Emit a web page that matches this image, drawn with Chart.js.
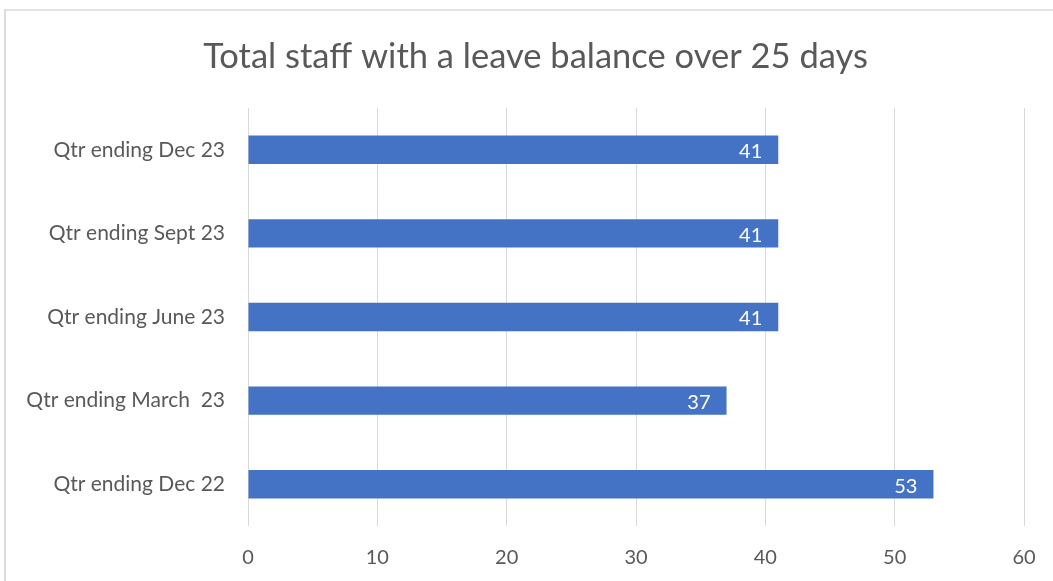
<!DOCTYPE html>
<html>
<head>
<meta charset="utf-8">
<script src="https://cdn.jsdelivr.net/npm/chart.js@4/dist/chart.umd.min.js"></script>
<style>
  html, body { margin: 0; padding: 0; background: #ffffff; }
  #frame {
    position: absolute; left: 0; top: 0; width: 1053px; height: 581px;
    background: #ffffff;
  }
  #edge {
    position: absolute; left: 4px; top: 9px; right: 0; bottom: 0;
    border-left: 2px solid #dcdcdc; border-top: 2px solid #e2e2e2;
    pointer-events: none;
  }
  canvas { position: absolute; left: 0; top: 0; }
</style>
</head>
<body>
<div id="frame">
  <canvas id="chart" width="1053" height="581"></canvas>
  <div id="edge"></div>
</div>
<script>
// Quarterly counts of staff holding more than 25 days of leave
const categories = [
  'Qtr ending Dec 23',
  'Qtr ending Sept 23',
  'Qtr ending June 23',
  'Qtr ending March  23',
  'Qtr ending Dec 22'
];
const staffCounts = [41, 41, 41, 37, 53];
const xTicks = [0, 10, 20, 30, 40, 50, 60];
const chartTitle = 'Total staff with a leave balance over 25 days';

const FONT = "Lato, 'Open Sans', sans-serif";
const TEXT_GREY = '#595959';
const BAR_BLUE = '#4472C4';

// Writes each bar's value in white just inside its end
const valueLabels = {
  id: 'valueLabels',
  afterDatasetsDraw(chart) {
    const ctx = chart.ctx;
    const meta = chart.getDatasetMeta(0);
    const data = chart.data.datasets[0].data;
    ctx.save();
    ctx.font = "20px " + FONT;
    ctx.fillStyle = '#ffffff';
    ctx.textAlign = 'right';
    ctx.textBaseline = 'middle';
    meta.data.forEach((bar, i) => {
      ctx.fillText(String(data[i]), bar.x - 16, bar.y + 2);
    });
    ctx.restore();
  }
};

// Chart heading, centred a little right of the canvas middle
const heading = {
  id: 'heading',
  afterDraw(chart) {
    const ctx = chart.ctx;
    ctx.save();
    ctx.font = "34.5px " + FONT;
    ctx.fillStyle = TEXT_GREY;
    ctx.textAlign = 'center';
    ctx.textBaseline = 'middle';
    ctx.fillText(chartTitle, chart.width / 2 + 9, 57);
    ctx.restore();
  }
};

new Chart(document.getElementById('chart'), {
  type: 'bar',
  data: {
    labels: categories,
    datasets: [{
      data: staffCounts,
      backgroundColor: BAR_BLUE,
      borderWidth: 0,
      categoryPercentage: 1,
      barPercentage: 0.34
    }]
  },
  options: {
    indexAxis: 'y',
    responsive: false,
    animation: false,
    layout: { padding: { left: 0, right: 29, top: 108, bottom: 0 } },
    plugins: {
      legend: { display: false },
      tooltip: { enabled: false },
      title: { display: false }
    },
    scales: {
      x: {
        min: xTicks[0],
        max: xTicks[xTicks.length - 1],
        afterBuildTicks(scale) {
          scale.ticks = xTicks.map(v => ({ value: v }));
        },
        afterFit(scale) {
          scale.height = 55;
          scale.paddingLeft = 0;
          scale.paddingRight = 0;
        },
        grid: {
          color: '#d9d9d9',
          lineWidth: 1,
          drawTicks: false
        },
        border: { display: false },
        ticks: {
          color: TEXT_GREY,
          font: { family: FONT, size: 20 },
          padding: 20
        }
      },
      y: {
        afterFit(scale) { scale.width = 248; },
        grid: { display: false },
        border: { display: false },
        ticks: {
          color: TEXT_GREY,
          font: { family: FONT, size: 21 },
          padding: 15
        }
      }
    }
  },
  plugins: [valueLabels, heading]
});
</script>
</body>
</html>
